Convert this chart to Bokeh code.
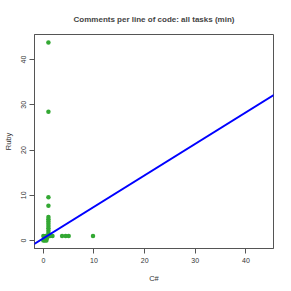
from bokeh.plotting import figure
from bokeh.models import Range1d, FixedTicker, Slope
from bokeh.embed import file_html
from bokeh.resources import INLINE

# Data (C# vs Ruby comments per line of code)
csharp = [1.0, 1.0, 1.0, 1.0, 1.0, 1.0, 1.0, 1.0, 1.0, 1.0, 1.0, 1.0, 1.0,
          1.8, 3.7, 4.4, 5.0, 9.8,
          0.0, 0.3, 0.6, 0.0, 0.4, 0.2, 0.7, 1.3]
ruby = [43.8, 28.5, 9.6, 7.7, 5.2, 4.7, 4.2, 3.7, 3.2, 2.7, 2.2, 1.7, 1.3,
        1.0, 1.0, 1.0, 1.0, 1.0,
        0.0, 0.0, 0.0, 1.0, 1.0, 0.5, 0.5, 1.0]
fit_slope = 0.696
fit_intercept = 0.49
ticks = [0, 10, 20, 30, 40]

p = figure(output_backend="svg", toolbar_location=None,
           frame_width=239, frame_height=214,
           min_border_left=34, min_border_right=9, min_border_top=34, min_border_bottom=34,
           x_range=Range1d(-1.75, 45.45), y_range=Range1d(-1.75, 45.55),
           title="Comments per line of code: all tasks (min)")

p.title.align = "center"
p.title.text_font = "Liberation Sans"
p.title.text_font_size = "8px"
p.title.text_font_style = "bold"
p.title.standoff = 21

p.grid.visible = False
p.outline_line_color = "#555555"
p.outline_line_width = 1
p.background_fill_color = "white"
p.border_fill_color = "white"

for ax in (p.xaxis[0], p.yaxis[0]):
    ax.ticker = FixedTicker(ticks=ticks)
    ax.minor_tick_line_color = None
    ax.major_tick_in = 0
    ax.major_tick_out = 5
    ax.major_tick_line_color = "#555555"
    ax.axis_line_color = "#555555"
    ax.major_label_text_font = "Liberation Sans"
    ax.major_label_text_font_size = "7px"
    ax.major_label_text_color = "#333333"
    ax.axis_label_text_font = "Liberation Sans"
    ax.axis_label_text_font_size = "7.5px"
    ax.axis_label_text_font_style = "normal"
    ax.axis_label_text_color = "#333333"

p.xaxis.axis_label = "C#"
p.xaxis.major_label_standoff = 4
p.xaxis.axis_label_standoff = 8
p.yaxis.axis_label = "Ruby"
p.yaxis.major_label_orientation = "vertical"
p.yaxis.major_label_standoff = 3
p.yaxis.axis_label_standoff = 6

p.add_layout(Slope(gradient=fit_slope, y_intercept=fit_intercept,
                   line_color="#0000ff", line_width=2))
p.scatter(csharp, ruby, size=4.5, color="#33a833", line_color=None)

open("out.html", "w").write(file_html(p, INLINE))
